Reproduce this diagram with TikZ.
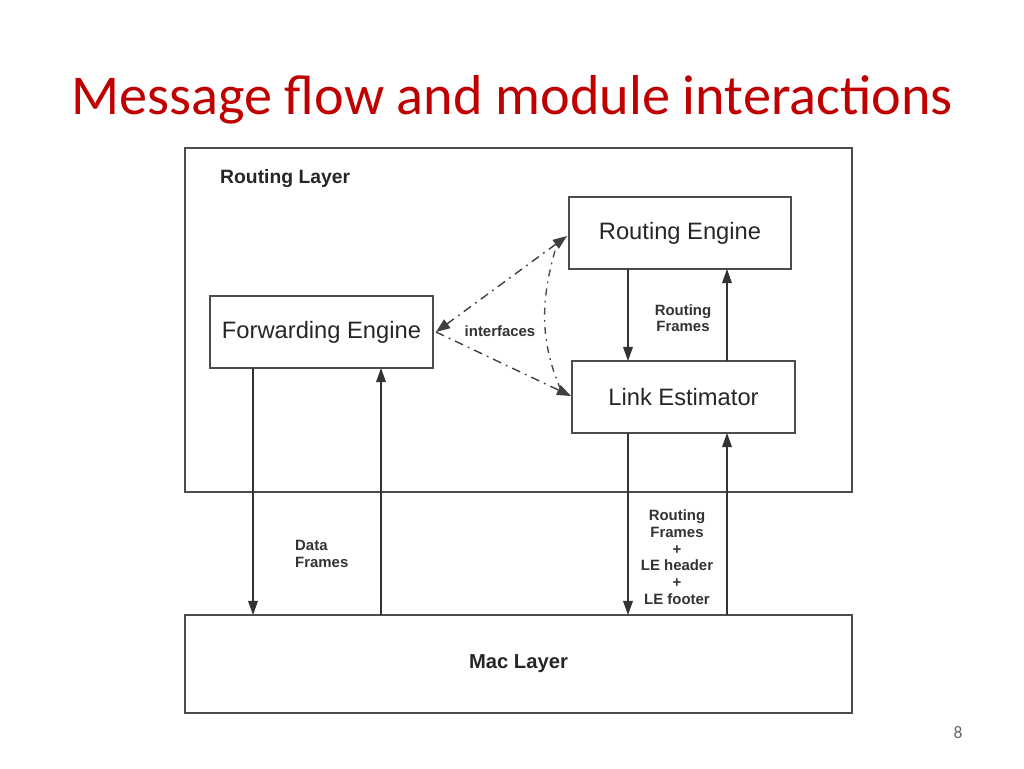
\documentclass[tikz,border=0pt]{standalone}
\usepackage{fontspec}
\setmainfont{Liberation Sans}
\newfontfamily\titlefont{Carlito}
\usetikzlibrary{arrows.meta}
\begin{document}
\begin{tikzpicture}[x=0.02cm,y=-0.02cm,
  box/.style={draw=black!70,line width=0.9pt},
  mod/.style={draw=black!70,line width=0.9pt,font=\fontsize{13.5}{15}\selectfont,text=black!85},
  arr/.style={draw=black!80,line width=0.7pt,-{Triangle[length=8pt,width=5.5pt]}},
  dd/.style={draw=black!75,line width=0.8pt,dash pattern=on 5pt off 3pt on 1pt off 3pt,-{Triangle[length=8pt,width=6pt]}},
  lbl/.style={font=\bfseries\fontsize{8.5}{9.5}\selectfont,text=black!80,align=center}]
\useasboundingbox (0,0) rectangle (1024,768);
\node[font=\titlefont\fontsize{32}{36}\selectfont,text={rgb,255:red,192;green,0;blue,0}] (title) at (512,100) {Message flow and module interactions};
\node[box,minimum width=667*0.02cm,minimum height=344*0.02cm] (rl) at (518.5,320) {};
\node[font=\bfseries\fontsize{11}{13}\selectfont,text=black!85,anchor=west] (rlt) at (214,179) {Routing Layer};
\node[box,minimum width=667*0.02cm,minimum height=98*0.02cm,font=\bfseries\fontsize{11.5}{13}\selectfont,text=black!85] (mac) at (518.5,664) {Mac Layer};
\node[mod,minimum width=222*0.02cm,minimum height=72*0.02cm] (re) at (680,233) {Routing Engine};
\node[mod,minimum width=223*0.02cm,minimum height=72*0.02cm] (fe) at (321.5,332) {Forwarding Engine};
\node[mod,minimum width=223*0.02cm,minimum height=72*0.02cm] (le) at (683.5,397) {Link Estimator};
\coordinate (a1) at (253,368); \coordinate (a1e) at (253,615);
\coordinate (a2) at (381,615); \coordinate (a2e) at (381,368);
\coordinate (b1) at (628,269); \coordinate (b1e) at (628,361);
\coordinate (b2) at (727,361); \coordinate (b2e) at (727,269);
\coordinate (c1) at (628,433); \coordinate (c1e) at (628,615);
\coordinate (c2) at (727,615); \coordinate (c2e) at (727,433);
\draw[arr] (a1) -- (a1e);
\draw[arr] (a2) -- (a2e);
\draw[arr] (b1) -- (b1e);
\draw[arr] (b2) -- (b2e);
\draw[arr] (c1) -- (c1e);
\draw[arr] (c2) -- (c2e);
\coordinate (fer) at (436,332); \coordinate (rel) at (567,236); \coordinate (lel) at (571,396);
\draw[dd,{Triangle[length=8pt,width=6pt]}-{Triangle[length=8pt,width=6pt]}] (rel) -- (fer);
\draw[dd] (fer) -- (lel);
\draw[black!70,line width=0.8pt,dash pattern=on 1pt off 3pt on 4pt off 3pt] (557,244) .. controls (540,300) and (540,340) .. (560,388);
\node[lbl] (intf) at (500,331) {interfaces};
\node[lbl] (rf1) at (683,318) {Routing\\Frames};
\node[lbl,anchor=west,align=left] (df) at (289,554) {Data\\Frames};
\node[lbl] (rf2) at (677,557) {Routing\\Frames\\+\\LE header\\+\\LE footer};
\node[font=\titlefont\fontsize{10}{11}\selectfont,text=black!60] (pg) at (958,733) {8};
\end{tikzpicture}
\end{document}
